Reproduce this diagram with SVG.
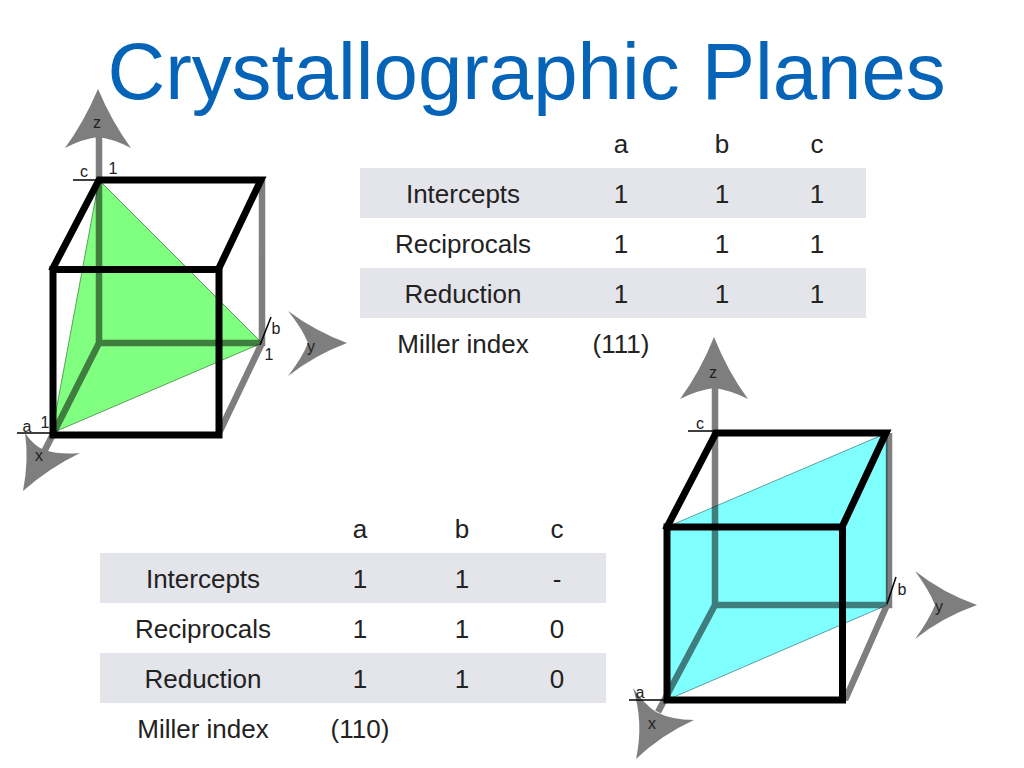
<svg xmlns="http://www.w3.org/2000/svg" width="1024" height="768" viewBox="0 0 1024 768">
<style>
text{font-family:"Liberation Sans",Arial,sans-serif}
.t{font-size:26px;fill:#222;text-anchor:middle}
.band{fill:#e4e5ea}
.title{font-size:79.800px;fill:#0563b8}
.axes{opacity:.5}
.axl{stroke:#000;stroke-width:6.500;fill:none}
.cube{stroke:#000;stroke-width:7;fill:none;stroke-linecap:square}
.tick{stroke:#000;stroke-width:1.5;fill:none}
.lb{font-size:16px;fill:#222;text-anchor:middle}
</style>
<rect width="1024" height="768" fill="#fff"/>
<text id="title" class="title" x="107.500" y="99">Crystallographic Planes</text>
<g id="crystal-111">
<polygon points="99,180 262,343 52,433" fill="#80ff80" stroke="#5aa05a" stroke-width="1"/>
<g class="axes">
<path class="axl" d="M99 137V343H262V180M262 343L219 433M99 343L44 452"/>
<path d="M98 89Q112 122 131 148Q114 139 98 137Q82 139 65 148Q84 122 98 89Z"/>
<path d="M347 343Q315 331 288 311Q302 328 308 343Q302 358 288 376Q315 355 347 343Z"/>
<path d="M23 491Q29 460 25 433Q34 446 44 450Q60 455 80 453Q49 468 23 491Z"/>
</g>
<rect class="cube" x="53" y="269.500" width="166" height="165.500"/>
<path class="cube" d="M53 268L99 180H261L219 268"/>
<path class="tick" d="M73 180H99M17 433H52M271 317L260 345"/>
<text class="lb" x="84" y="177">c</text><text class="lb" x="113" y="174">1</text>
<text class="lb" x="97" y="128">z</text><text class="lb" x="276" y="334">b</text>
<text class="lb" x="269" y="360">1</text><text class="lb" x="311" y="352">y</text>
<text class="lb" x="27" y="432">a</text><text class="lb" x="45" y="428">1</text><text class="lb" x="39" y="461">x</text>
</g>
<g id="crystal-110">
<polygon points="667,527 887,433 887,605 667,700" fill="#80ffff" stroke="#5aa0a0" stroke-width="1"/>
<g class="axes">
<path class="axl" d="M715 388V605H889V433M887 605L845 700M715 605L658 712"/>
<path d="M714 337Q728 372 748 399Q730 390 714 388Q698 390 680 399Q700 372 714 337Z"/>
<path d="M977 605Q943 593 915 571Q929 590 935 605Q929 620 915 639Q943 617 977 605Z"/>
<path d="M636 759Q644 723 633 688Q644 704 656 712Q672 720 694 720Q661 735 636 759Z"/>
</g>
<rect class="cube" x="667" y="527" width="175.500" height="173"/>
<path class="cube" d="M667 527L716 433H886L842 527"/>
<path class="tick" d="M688 431H716M629 700H667M896 577L887 604"/>
<text class="lb" x="700" y="429">c</text><text class="lb" x="713" y="378">z</text>
<text class="lb" x="902" y="595">b</text><text class="lb" x="939" y="612">y</text>
<text class="lb" x="640" y="698">a</text><text class="lb" x="652" y="729">x</text>
</g>
<g id="table-111">
<rect class="band" x="360" y="168" width="506" height="50"/>
<rect class="band" x="360" y="268" width="506" height="50"/>
<text class="t" x="621" y="153">a</text><text class="t" x="722" y="153">b</text><text class="t" x="817" y="153">c</text>
<text class="t" x="463" y="203">Intercepts</text><text class="t" x="621" y="203">1</text><text class="t" x="722" y="203">1</text><text class="t" x="817" y="203">1</text>
<text class="t" x="463" y="253">Reciprocals</text><text class="t" x="621" y="253">1</text><text class="t" x="722" y="253">1</text><text class="t" x="817" y="253">1</text>
<text class="t" x="463" y="303">Reduction</text><text class="t" x="621" y="303">1</text><text class="t" x="722" y="303">1</text><text class="t" x="817" y="303">1</text>
<text class="t" x="463" y="353">Miller index</text><text class="t" x="621" y="353">(111)</text>
</g>
<g id="table-110">
<rect class="band" x="100" y="553" width="506" height="50"/>
<rect class="band" x="100" y="653" width="506" height="50"/>
<text class="t" x="360" y="538">a</text><text class="t" x="462" y="538">b</text><text class="t" x="557" y="538">c</text>
<text class="t" x="203" y="588">Intercepts</text><text class="t" x="360" y="588">1</text><text class="t" x="462" y="588">1</text><text class="t" x="557" y="588">-</text>
<text class="t" x="203" y="638">Reciprocals</text><text class="t" x="360" y="638">1</text><text class="t" x="462" y="638">1</text><text class="t" x="557" y="638">0</text>
<text class="t" x="203" y="688">Reduction</text><text class="t" x="360" y="688">1</text><text class="t" x="462" y="688">1</text><text class="t" x="557" y="688">0</text>
<text class="t" x="203" y="738">Miller index</text><text class="t" x="360" y="738">(110)</text>
</g>
</svg>
